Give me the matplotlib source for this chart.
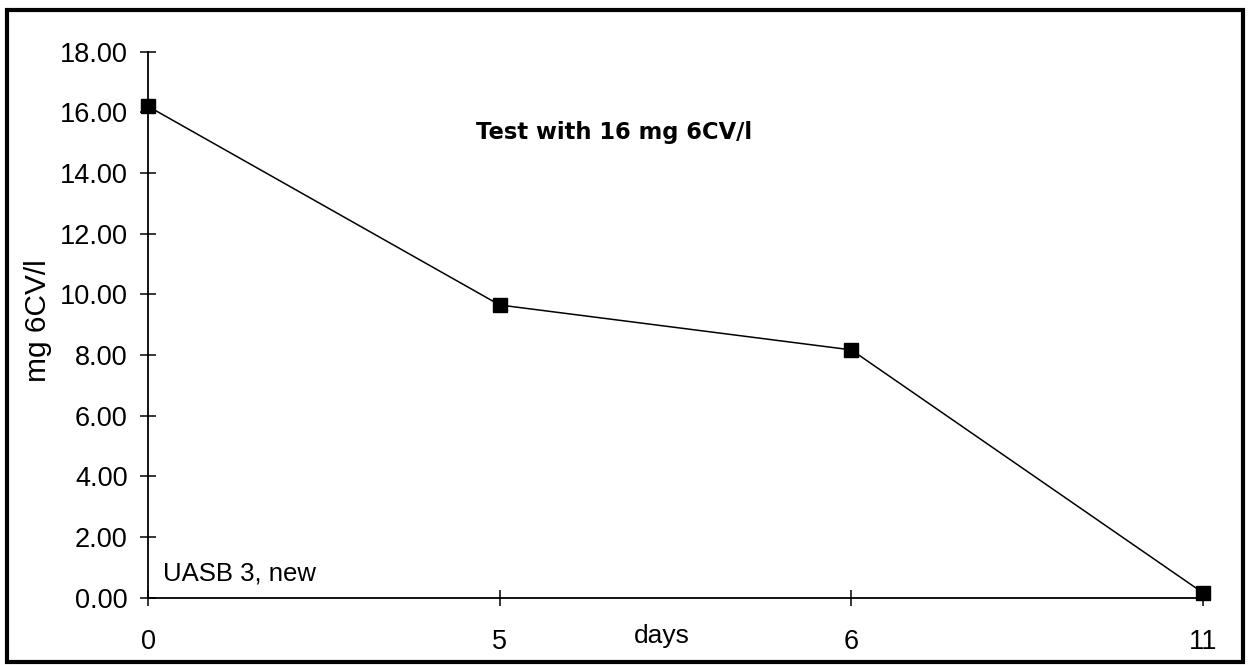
import matplotlib
matplotlib.use("Agg")
import matplotlib.pyplot as plt
from matplotlib.patches import Rectangle

# Data
days = ["0", "5", "6", "11"]
conc = [16.2, 9.65, 8.17, 0.16]
yticks = [0, 2, 4, 6, 8, 10, 12, 14, 16, 18]
ytick_labels = [f"{v:.2f}" for v in yticks]

plt.rcParams['font.family'] = ['Liberation Sans', 'DejaVu Sans']

fig = plt.figure(figsize=(12.48, 6.65), dpi=100)
ax = fig.add_axes([148/1248, 1-597.7/665, (1203-148)/1248, (597.7-51.7)/665])

xpos = list(range(len(days)))
ax.plot(xpos, conc, color='black', lw=1.1, marker='s', markersize=9.5,
        markerfacecolor='black', markeredgecolor='black', clip_on=False, zorder=5)

ax.set_xlim(0, len(days) - 1)
ax.set_ylim(0, 18)
ax.set_xticks(xpos)
ax.set_xticklabels(days)
ax.set_yticks(yticks)
ax.set_yticklabels(ytick_labels)

for s in ['top', 'right']:
    ax.spines[s].set_visible(False)
for s in ['left', 'bottom']:
    ax.spines[s].set_linewidth(1.3)
    ax.spines[s].set_color('black')

ax.tick_params(axis='y', direction='inout', length=11.5, width=1.1, pad=9, labelsize=19.5)
ax.tick_params(axis='x', direction='inout', length=11.5, width=1.1, pad=17, labelsize=19.5)

ax.text(0.933, 15.32, "Test with 16 mg 6CV/l", ha='left', va='center',
        fontsize=16.3, fontweight='bold', family=['DejaVu Sans'])
ax.text(0.043, 0.81, "UASB 3, new", ha='left', va='center', fontsize=18.5)

fig.text(662/1248, 1-636/665, "days", ha='center', va='center', fontsize=19)
fig.text(38/1248, 1-321/665, "mg 6CV/l", ha='center', va='center', rotation=90, fontsize=21.5)

fig.patches.append(Rectangle((7/1248, 1-662/665), (1243-7)/1248, (662-10)/665,
                             transform=fig.transFigure, fill=False, lw=3, edgecolor='black'))

fig.savefig("out.png", dpi=100)
